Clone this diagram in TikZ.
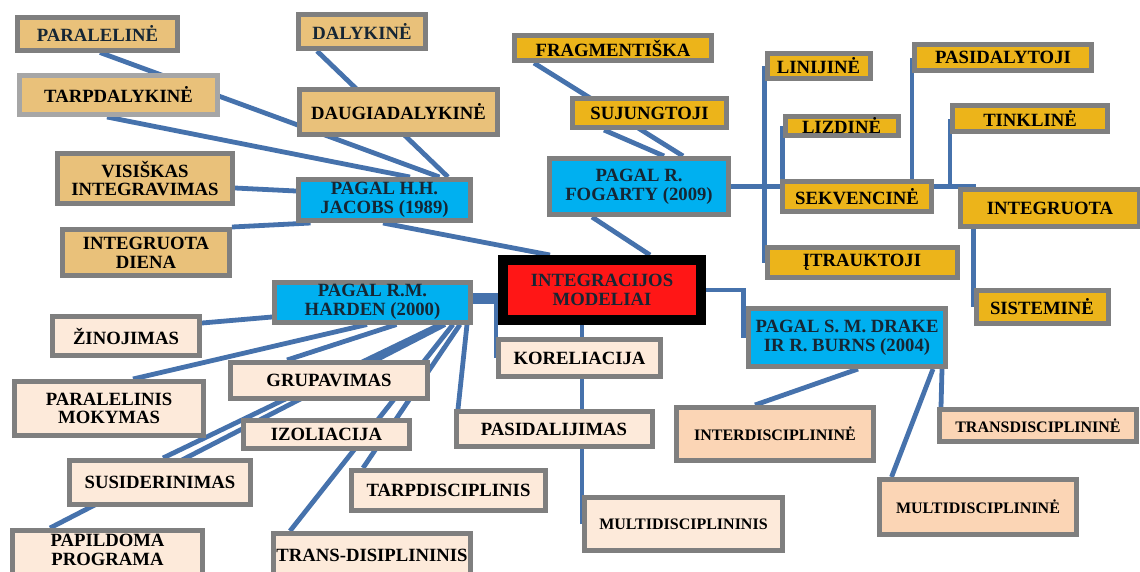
\documentclass[tikz,border=0pt]{standalone}
\usepackage{fontspec}
\setmainfont{Liberation Serif}
\usetikzlibrary{backgrounds,calc}
\definecolor{ctan}{RGB}{233,193,122}
\definecolor{cgold}{RGB}{236,180,26}
\definecolor{cblue}{RGB}{0,176,240}
\definecolor{cred}{RGB}{255,22,22}
\definecolor{cpeach}{RGB}{253,234,218}
\definecolor{cpeachb}{RGB}{251,213,181}
\definecolor{bgray}{RGB}{127,127,127}
\definecolor{lgray}{RGB}{166,166,166}
\definecolor{cline}{RGB}{70,114,172}
\definecolor{ctext}{RGB}{22,38,52}
\tikzset{
  bx/.style={draw=bgray, line width=5pt, inner sep=0pt, align=center, text=black,
    font=\bfseries\fontsize{18.7}{18.7}\selectfont},
  tanbox/.style={bx, fill=ctan},
  goldbox/.style={bx, fill=cgold},
  bluebox/.style={bx, fill=cblue, text=ctext, font=\bfseries\fontsize{18.7}{19}\selectfont},
  pchbox/.style={bx, fill=cpeach},
  pchbbox/.style={bx, fill=cpeachb, font=\bfseries\fontsize{16}{17}\selectfont},
  conn/.style={draw=cline, line width=4.8pt},
  sz/.style 2 args={minimum width=#1pt, minimum height=#2pt}
}
\begin{document}
\begin{tikzpicture}[x=1pt,y=-1pt]
\useasboundingbox (0,0) rectangle (1140,571);
% Jacobs group
\node[tanbox, sz={160}{33}, text=ctext] (par) at (97.5,33.5) {PARALELINĖ};
\node[tanbox, sz={127}{34}, text=ctext] (dal) at (362,31.5) {DALYKINĖ};
\node[tanbox, sz={198}{39}, draw=lgray] (tarp) at (118.5,95) {TARPDALYKINĖ};
\node[tanbox, sz={198}{45}] (daug) at (398.5,112) {DAUGIADALYKINĖ};
\node[tanbox, sz={175}{50}] (visi) at (145,178.5) {VISIŠKAS\\INTEGRAVIMAS};
\node[tanbox, sz={167}{46}] (idie) at (146,252.5) {INTEGRUOTA\\DIENA};
\node[bluebox, sz={172}{41}] (jac) at (384.5,200) {PAGAL H.H.\\JACOBS (1989)};
% Fogarty group
\node[goldbox, sz={197}{25}] (frag) at (613,48) {FRAGMENTIŠKA};
\node[goldbox, sz={154}{29}] (suj) at (649.5,113) {SUJUNGTOJI};
\node[bluebox, sz={179}{56}] (fog) at (639,186.5) {PAGAL R.\\FOGARTY (2009)};
\node[goldbox, sz={103}{25}] (lin) at (818.5,66) {LINIJINĖ};
\node[goldbox, sz={113}{19}] (liz) at (841.5,126) {LIZDINĖ};
\node[goldbox, sz={149}{30}] (sek) at (857,196.5) {SEKVENCINĖ};
\node[goldbox, sz={177}{26}] (pasdy) at (1003,57.5) {PASIDALYTOJI};
\node[goldbox, sz={155}{26}] (tink) at (1030,118.5) {TINKLINĖ};
\node[goldbox, sz={179}{37}] (intg) at (1050,208) {INTEGRUOTA};
\node[goldbox, sz={190}{30}] (itr) at (862,262.5) {ĮTRAUKTOJI};
\node[goldbox, sz={132}{33}] (sis) at (1042,307) {SISTEMINĖ};
% Drake group
\node[bluebox, sz={197}{58}] (drk) at (847,337.5) {PAGAL S. M. DRAKE\\IR R. BURNS (2004)};
\node[pchbbox, sz={197}{53}] (inter) at (775,434) {INTERDISCIPLININĖ};
\node[pchbbox, sz={197}{32}] (transd) at (1038,425.5) {TRANSDISCIPLININĖ};
\node[pchbbox, sz={197}{55}] (multd) at (978,507) {MULTIDISCIPLININĖ};
% centre
\node[draw=black, line width=10pt, fill=cred, sz={198}{60}, inner sep=0pt, align=center,
  text=ctext, font=\bfseries\fontsize{18.7}{19}\selectfont] (cen) at (602,290) {INTEGRACIJOS\\MODELIAI};
% Harden group
\node[bluebox, sz={196}{40}] (har) at (372.5,302) {PAGAL R.M.\\HARDEN (2000)};
\node[pchbox, sz={162}{37}] (kor) at (579.5,358) {KORELIACIJA};
\node[pchbox, sz={196}{35}] (pasid) at (554,429) {PASIDALIJIMAS};
\node[pchbox, sz={198}{53}, font=\bfseries\fontsize{16}{17}\selectfont] (mdis) at (683.5,524) {MULTIDISCIPLININIS};
\node[pchbox, sz={194}{40}] (tarpd) at (448.5,490.5) {TARPDISCIPLINIS};
\node[pchbox, sz={197}{44}] (trans) at (372,555.5) {TRANS-DISIPLININIS};
\node[pchbox, sz={147}{39}] (zin) at (126,336) {ŽINOJIMAS};
\node[pchbox, sz={189}{54}] (parmok) at (109,408.5) {PARALELINIS\\MOKYMAS};
\node[pchbox, sz={197}{36}] (grup) at (329,380.5) {GRUPAVIMAS};
\node[pchbox, sz={166}{28}] (izo) at (326.5,434.5) {IZOLIACIJA};
\node[pchbox, sz={181}{44}] (susid) at (160,482.5) {SUSIDERINIMAS};
\node[pchbox, sz={190}{45}] (papil) at (107.5,553) {PAPILDOMA\\PROGRAMA\rule[-7pt]{0pt}{7pt}};
\begin{pgfonlayer}{background}
% Jacobs connectors
\draw[conn] ([xshift=2.5pt]par.south) -- ([xshift=55pt]jac.north);
\draw[conn] ([xshift=-11.5pt]tarp.south) -- ([xshift=25.5pt]jac.north);
\draw[conn] ([xshift=-45pt]dal.south) -- ([xshift=63.5pt]jac.north);
\draw[conn] ([yshift=-9.5pt]visi.east) -- ([yshift=9pt]jac.west);
\draw[conn] (idie.north east) -- ([xshift=-74pt]jac.south);
\draw[conn] ([xshift=-1.5pt]jac.south) -- ([xshift=-52pt]cen.north);
% Fogarty connectors
\draw[conn] ([xshift=-79pt]frag.south) -- ([xshift=44pt]fog.north);
\draw[conn] ([xshift=-45.5pt]suj.south) -- ([xshift=25pt]fog.north);
\draw[conn] ([xshift=-47pt]fog.south) -- ([xshift=48pt]cen.north);
\draw[conn] (lin.west) |- (fog.east);
\draw[conn] (liz.west) |- (fog.east);
\draw[conn] (pasdy.west) |- (fog.east);
\draw[conn] (tink.west) |- (fog.east);
\draw[conn] (sis.west) |- (fog.east);
\draw[conn] (itr.west) |- (fog.east);
% Drake connectors
\draw[conn] (cen.east) -| ([xshift=-2.5pt]drk.west);
\draw[conn] ([xshift=11pt]drk.south) -- ([xshift=-20pt]inter.north);
\draw[conn] ([xshift=86pt]drk.south) -- ([xshift=-86.5pt]multd.north);
\draw[conn] ([xshift=95pt]drk.south) -- ([xshift=-97pt]transd.north);
% Harden connectors
\draw[conn, line width=8pt] ([yshift=5pt]har.east) -- ([yshift=-7pt]cen.west);
\draw[conn] (har.east) -| (kor.west);
\draw[conn] (mdis.west) -- (mdis.west |- cen.south);
\draw[conn] ([yshift=13pt]zin.east) -- ([yshift=-15pt]har.west);
\draw[conn] ([xshift=24pt]parmok.north) -- ([xshift=-5.5pt]har.south);
\draw[conn] ([xshift=-42pt]grup.north) -- ([xshift=24pt]har.south);
\draw[conn] ([xshift=3pt]susid.north) -- ([xshift=67.5pt]har.south);
\draw[conn] ([xshift=-57.5pt]papil.north) -- ([xshift=72.5pt]har.south);
\draw[conn] ([xshift=-82pt]trans.north) -- ([xshift=80.5pt]har.south);
\draw[conn] ([xshift=-85.5pt]tarpd.north) -- ([xshift=87.5pt]har.south);
\draw[conn] ([xshift=-96pt]pasid.north) -- ([xshift=94.5pt]har.south);
\end{pgfonlayer}
\end{tikzpicture}
\end{document}
